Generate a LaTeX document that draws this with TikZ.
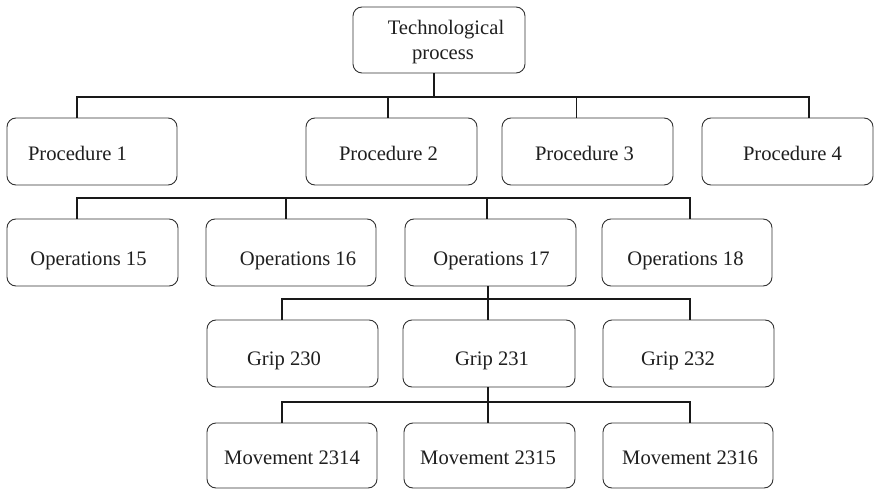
\documentclass[tikz,border=0pt]{standalone}
\usepackage{fontspec}
\setmainfont{Liberation Serif}
\begin{document}
\begin{tikzpicture}[x=1pt,y=-1pt,
  bx/.style={draw=black!80,line width=0.9pt,rounded corners=9pt,inner sep=0pt,fill=white},
  txt/.style={anchor=base,inner sep=0pt,text=black!88,font=\fontsize{20.6}{25}\selectfont},
  conn/.style={draw=black!90,line width=1.3pt},
  thin/.style={draw=black!90,line width=0.8pt}]
\newcommand\bx[5]{\node[bx,minimum width={(#4-#2)*1pt},minimum height={(#5-#3)*1pt}] (#1) at ({(#2+#4)/2},{(#3+#5)/2}) {};}
\useasboundingbox (0,0) rectangle (875,489);
% boxes
\bx{tp}{353}{7}{525}{73}
\bx{p1}{7}{118}{177}{185}
\bx{p2}{306}{118}{477}{185}
\bx{p3}{502}{118}{673}{185}
\bx{p4}{702}{118}{873}{185}
\bx{o15}{7}{219}{178}{286}
\bx{o16}{206}{219}{376}{286}
\bx{o17}{405}{219}{576}{286}
\bx{o18}{602}{219}{772}{286}
\bx{g230}{207}{320}{378}{387}
\bx{g231}{403}{320}{575}{387}
\bx{g232}{603}{320}{774}{387}
\bx{m2314}{207}{423}{377}{488}
\bx{m2315}{404}{423}{575}{488}
\bx{m2316}{603}{423}{773}{488}
% texts
\node[txt] (ttp1) at (446,35) {Technological};
\node[txt] (ttp2) at (443,60) {process};
\node[txt] (tp1) at (77.5,161) {Procedure 1};
\node[txt] (tp2) at (388.5,161) {Procedure 2};
\node[txt] (tp3) at (584.5,161) {Procedure 3};
\node[txt] (tp4) at (792.5,161) {Procedure 4};
\node[txt] (to15) at (88.5,265) {Operations 15};
\node[txt] (to16) at (298,265) {Operations 16};
\node[txt] (to17) at (491.5,265) {Operations 17};
\node[txt] (to18) at (685.5,265) {Operations 18};
\node[txt] (tg230) at (284,365) {Grip 230};
\node[txt] (tg231) at (492,365) {Grip 231};
\node[txt] (tg232) at (678,365) {Grip 232};
\node[txt] (tm2314) at (292,464) {Movement 2314};
\node[txt] (tm2315) at (488,464) {Movement 2315};
\node[txt] (tm2316) at (690,464) {Movement 2316};
% bus 1
\coordinate (a0) at (434,97);
\coordinate (a1) at (77,97);
\coordinate (a2) at (388,97);
\coordinate (a3) at (576,97);
\coordinate (a4) at (809,97);
\draw[conn] (tp.south -| a0) -- (a0);
\draw[conn] (a1 |- p1.north) -- (a1) -- (a4) -- (a4 |- p4.north);
\draw[conn] (a2) -- (a2 |- p2.north);
\draw[thin] (a3) -- (a3 |- p3.north);
% bus 2
\coordinate (b1) at (77,198);
\coordinate (b2) at (286,198);
\coordinate (b3) at (487,198);
\coordinate (b4) at (690,198);
\draw[conn] (b1 |- o15.north) -- (b1) -- (b4) -- (b4 |- o18.north);
\draw[conn] (b2) -- (b2 |- o16.north);
\draw[conn] (b3) -- (b3 |- o17.north);
% bus 3
\coordinate (c0) at (488,299);
\coordinate (c1) at (282,299);
\coordinate (c4) at (690,299);
\draw[conn] (o17.south -| c0) -- (c0 |- g231.north);
\draw[conn] (c1 |- g230.north) -- (c1) -- (c4) -- (c4 |- g232.north);
% bus 4
\coordinate (e0) at (488,402);
\coordinate (e1) at (282,402);
\coordinate (e4) at (690,402);
\draw[conn] (g231.south -| e0) -- (e0 |- m2315.north);
\draw[conn] (e1 |- m2314.north) -- (e1) -- (e4) -- (e4 |- m2316.north);
\end{tikzpicture}
\end{document}
